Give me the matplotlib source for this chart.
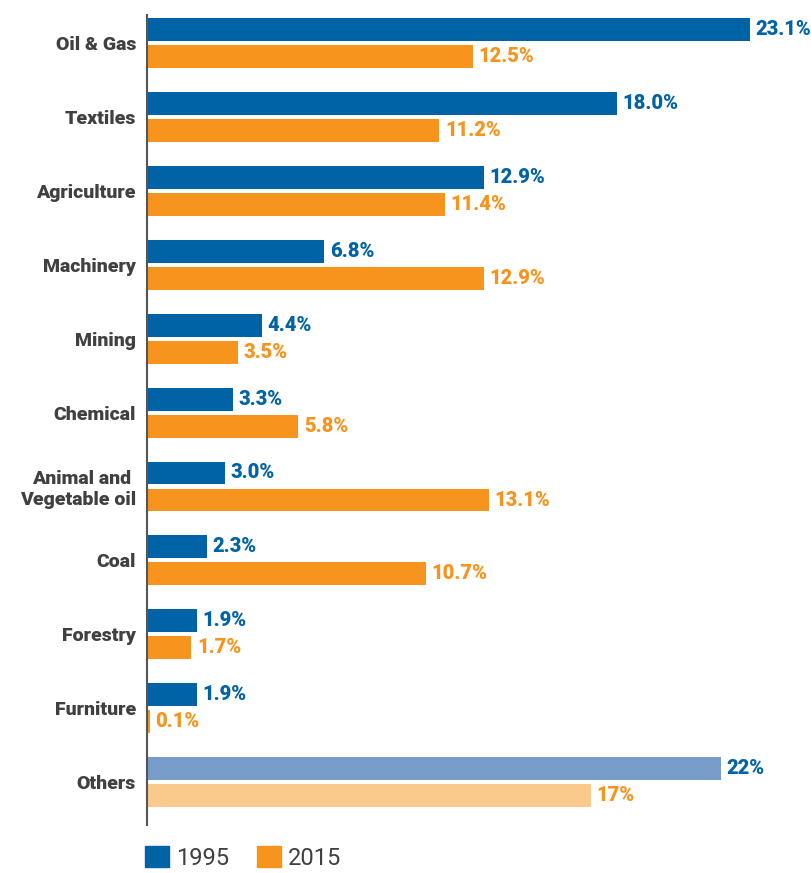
import matplotlib.pyplot as plt
from matplotlib.patches import Patch

categorias = ['Oil & Gas', 'Textiles', 'Agriculture', 'Machinery', 'Mining', 'Chemical',
              'Animal and \nVegetable oil', 'Coal', 'Forestry', 'Furniture', 'Others']
v1995 = [23.1, 18.0, 12.9, 6.8, 4.4, 3.3, 3.0, 2.3, 1.9, 1.9, 22]
v2015 = [12.5, 11.2, 11.4, 12.9, 3.5, 5.8, 13.1, 10.7, 1.7, 0.1, 17]
rotulos_1995 = ['23.1%', '18.0%', '12.9%', '6.8%', '4.4%', '3.3%', '3.0%', '2.3%', '1.9%', '1.9%', '22%']
rotulos_2015 = ['12.5%', '11.2%', '11.4%', '12.9%', '3.5%', '5.8%', '13.1%', '10.7%', '1.7%', '0.1%', '17%']

azul = '#0063a6'
laranja = '#f7941d'
azul_claro = '#779cc9'
laranja_claro = '#fac98c'
cinza = '#404040'

plt.rcParams['font.family'] = ['Roboto', 'DejaVu Sans']

fig = plt.figure(figsize=(8.12, 8.73), dpi=100)
ax = fig.add_axes([147 / 812, 1 - 825 / 873, 1 - 147 / 812, 810 / 873])

n = len(categorias)
pos = list(range(n))
altura = 0.31
desloc = 0.183

cores_a = [azul] * (n - 1) + [azul_claro]
cores_b = [laranja] * (n - 1) + [laranja_claro]

ax.barh([p - desloc for p in pos], v1995, height=altura, color=cores_a)
ax.barh([p + desloc for p in pos], v2015, height=altura, color=cores_b)

for i in range(n):
    ax.annotate(rotulos_1995[i], (v1995[i], i - desloc), xytext=(4, 0), textcoords='offset points',
                va='center', ha='left', color=azul, fontsize=14.5, fontweight='heavy')
    ax.annotate(rotulos_2015[i], (v2015[i], i + desloc), xytext=(4, 0), textcoords='offset points',
                va='center', ha='left', color=laranja, fontsize=14.5, fontweight='heavy')

ax.set_xlim(0, 665 / 26.1)
ax.set_ylim(10.58, -0.379)
ax.set_yticks(pos)
ax.set_yticklabels(categorias, fontsize=14, fontweight='heavy', color=cinza)
ax.tick_params(axis='y', length=0, pad=8)
ax.set_xticks([])
for lado in ['top', 'right', 'bottom']:
    ax.spines[lado].set_visible(False)
ax.spines['left'].set_color('#555555')
ax.spines['left'].set_linewidth(1.5)

handles = [Patch(color=azul), Patch(color=laranja)]
fig.legend(handles, ['1995', '2015'], loc='lower left', bbox_to_anchor=(145 / 812, 0.004),
           ncol=2, frameon=False, fontsize=17, handlelength=1.0, handleheight=1.0,
           handletextpad=0.3, columnspacing=1.2, borderpad=0, borderaxespad=0,
           labelcolor=cinza)

fig.savefig('out.png', dpi=100)
